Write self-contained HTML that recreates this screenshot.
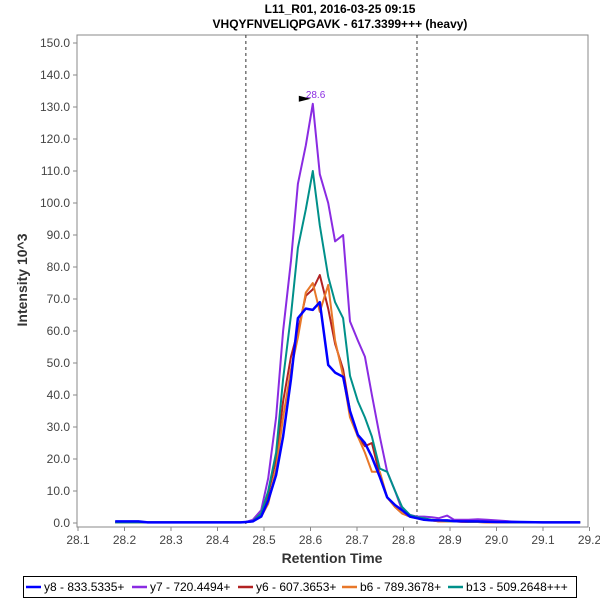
<!DOCTYPE html>
<html><head><meta charset="utf-8"><style>
body{margin:0;background:#fff;font-family:"Liberation Sans",sans-serif;}
svg text{font-family:"Liberation Sans",sans-serif;}
</style></head><body>
<svg id="chart" width="600" height="600" viewBox="0 0 600 600" xmlns="http://www.w3.org/2000/svg">
<rect width="600" height="600" fill="#fff"/>
<text x="340" y="13" text-anchor="middle" font-size="12" font-weight="bold">L11_R01, 2016-03-25 09:15</text>
<text x="340" y="28" text-anchor="middle" font-size="12" font-weight="bold">VHQYFNVELIQPGAVK - 617.3399+++ (heavy)</text>
<g id="axes"></g>
<g id="series"></g>
<text x="332" y="563" text-anchor="middle" font-size="14" font-weight="bold" fill="#333">Retention Time</text>
<text transform="translate(27,280) rotate(-90)" text-anchor="middle" font-size="14" font-weight="bold" fill="#333">Intensity 10^3</text>
<g id="legend"></g>
</svg>
<script>
const times=[28.18,28.23,28.25,28.35,28.45,28.461,28.476,28.494,28.509,28.526,28.541,28.558,28.573,28.590,28.605,28.620,28.638,28.653,28.670,28.685,28.702,28.717,28.732,28.749,28.765,28.782,28.797,28.814,28.829,28.844,28.861,28.876,28.894,28.909,28.925,28.94,28.96,28.98,29.0,29.05,29.1,29.18];
const y8=[0.5,0.5,0.2,0.2,0.2,0.3,0.5,2,7,15,27,45,64,67,66.6,69,49.4,47,45.7,35,27.5,25,20.6,14.4,8,5.6,4,2,1.5,1,0.8,0.8,0.8,0.6,0.5,0.5,0.5,0.4,0.3,0.3,0.2,0.2];
const y7=[0.3,0.3,0.2,0.2,0.2,0.3,1,4,14,33,60,82,106,118,131,109,100,88,90,63,57,52,40,27,16,10,4,2.5,2,2,1.8,1.5,2.3,1,1,1,1.2,1,0.8,0.3,0.2,0.2];
const y6=[0.2,0.2,0.2,0.2,0.2,0.3,0.5,3,9,20,38,52,60,71,73,77.5,67,56,48,35,27,24,25,15,8,5,3,2,1.5,1,0.8,0.5,0.5,0.5,0.4,0.3,0.3,0.2,0.2,0.2,0.2,0.2];
const b6=[0.2,0.2,0.2,0.2,0.2,0.3,0.5,2,6,17,33,48,58,72,75,66,74.4,57,46,33,27,22,16,16,8,5,3,2,1.5,1,0.8,0.5,0.5,0.5,0.4,0.3,0.3,0.2,0.2,0.2,0.2,0.2];
const b13=[0.2,0.2,0.2,0.2,0.2,0.3,0.5,3,10,22,45,65,86,98,110,93,77,69,64,46,38,33,27,17,16,10,5,2.5,1.8,1.5,1,0.8,0.6,0.5,0.5,0.4,0.4,0.3,0.3,0.2,0.2,0.2];
const seriesNames=["y8 - 833.5335+","y7 - 720.4494+","y6 - 607.3653+","b6 - 789.3678+","b13 - 509.2648+++"];
const seriesColors=["#0000ff","#8a2be2","#b22222","#e8782a","#00908a"];
const seriesData=[y8,y7,y6,b6,b13];
const xTicks=[28.1,28.2,28.3,28.4,28.5,28.6,28.7,28.8,28.9,29.0,29.1,29.2];
const yTicks=[0,10,20,30,40,50,60,70,80,90,100,110,120,130,140,150];
const boundaries=[28.461,28.829];
const peakTime=28.605, peakVal=131, peakLabel="28.6";

const NS="http://www.w3.org/2000/svg";
const L=77,R=588,T=35,B=527;
const X=t=>78+(t-28.1)*465;
const Y=v=>523-v*3.2;
function mk(tag,attrs,parent){const e=document.createElementNS(NS,tag);for(const k in attrs)e.setAttribute(k,attrs[k]);parent.appendChild(e);return e;}
const axes=document.getElementById('axes');
const frame=mk('rect',{x:L,y:T,width:R-L,height:B-T,fill:'none',stroke:'#888'},axes);


xTicks.forEach(t=>{
  const l=mk('line',{x1:X(t),x2:X(t),y1:B,y2:B+4,stroke:'#888'},axes);
  
  
  const tx=mk('text',{x:X(t),y:B+17,'text-anchor':'middle','font-size':'12',fill:'#444'},axes);
  tx.textContent=t.toFixed(1);
  
  
});
yTicks.forEach(v=>{
  const l=mk('line',{x1:L-4,x2:L,y1:Y(v),y2:Y(v),stroke:'#888'},axes);
  
  
  const tx=mk('text',{x:L-7,y:Y(v)+4,'text-anchor':'end','font-size':'12',fill:'#444'},axes);
  tx.textContent=v.toFixed(1);
  
  
});
boundaries.forEach(b=>{
  const l=mk('line',{x1:X(b),x2:X(b),y1:T,y2:B,stroke:'#333','stroke-dasharray':'3,3'},axes);
  
  
});
const sg=document.getElementById('series');
seriesData.forEach((d,i)=>{
  const pts=d.map((v,j)=>X(times[j]).toFixed(1)+','+Y(v).toFixed(1)).join(' ');
  const p=mk('polyline',{points:pts,fill:'none',stroke:seriesColors[i],'stroke-width':i==0?2.5:2,'stroke-linejoin':'round'},sg);
  
  
});
sg.appendChild(sg.firstChild);
const pl=mk('text',{x:X(peakTime)-7,y:Y(peakVal)-6,'font-size':'10',fill:'#8a2be2'},sg);
pl.textContent=peakLabel;


const tri=mk('polygon',{points:`${X(peakTime)-14},${Y(peakVal)-8} ${X(peakTime)-2},${Y(peakVal)-5} ${X(peakTime)-14},${Y(peakVal)-2}`,fill:'#000'},sg);


const lg=document.getElementById('legend');
mk('rect',{x:23.5,y:576.5,width:553,height:21,fill:'#fff',stroke:'#000'},lg);
const lx=[26,132,238,342,448];
seriesNames.forEach((n,i)=>{
  const g=mk('g',{},lg);
  
  
  mk('line',{x1:lx[i],x2:lx[i]+15,y1:587,y2:587,stroke:seriesColors[i],'stroke-width':2.5},g);
  const t=mk('text',{x:lx[i]+18,y:591,'font-size':'12',fill:'#000'},g);
  t.textContent=n;
});
</script>
</body></html>
